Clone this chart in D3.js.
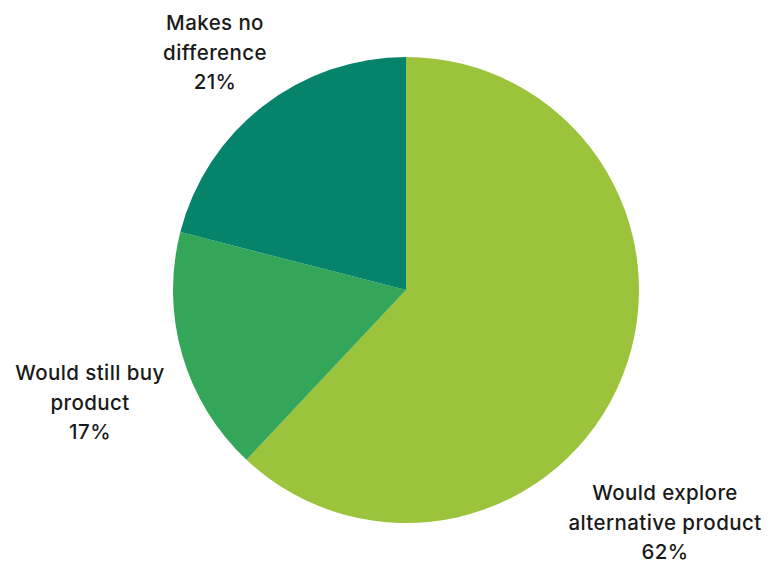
<!DOCTYPE html>
<html><head><meta charset="utf-8">
<script src="https://cdn.jsdelivr.net/npm/d3@7"></script>
<style>html,body{margin:0;padding:0;background:#fff;}</style>
</head><body>
<svg id="c" width="768" height="573"></svg>
<script>
const categories = ["Would explore alternative product", "Would still buy product", "Makes no difference"];
const values = [62, 17, 21];
const colors = ["#9BC33B", "#33A65A", "#06836B"];
const labelLines = [["Would explore", "alternative product", "62%"], ["Would still buy", "product", "17%"], ["Makes no", "difference", "21%"]];
const labelAnchors = [[665, 500], [90, 380], [215, 30]];

const svg = d3.select("#c");
const cx = 406, cy = 290, r = 233;
const pie = d3.pie().sort(null).value(d => d)(values);
const arc = d3.arc().innerRadius(0).outerRadius(r);
const g = svg.append("g").attr("transform", `translate(${cx},${cy})`);
g.selectAll("path").data(pie).enter().append("path")
  .attr("d", arc).attr("fill", (d, i) => colors[i]);

labelLines.forEach((lines, i) => {
  const t = svg.append("text")
    .attr("x", labelAnchors[i][0]).attr("y", labelAnchors[i][1])
    .attr("text-anchor", "middle")
    .attr("font-family", "Inter, 'Open Sans', sans-serif")
    .attr("font-weight", 500)
    .attr("font-size", 20.5)
    .attr("letter-spacing", 0.4)
    .attr("fill", "#1a1a1a");
  lines.forEach((l, j) => t.append("tspan").attr("x", labelAnchors[i][0]).attr("dy", j === 0 ? 0 : 29.7).text(l));
});
</script>
</body></html>
